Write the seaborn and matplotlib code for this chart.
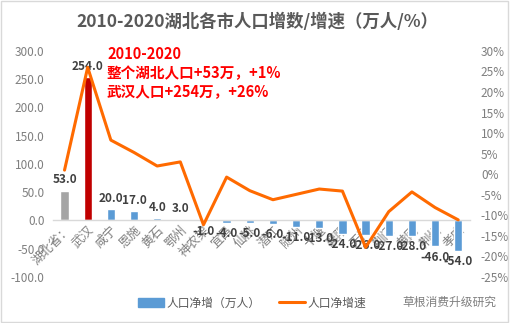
import matplotlib
matplotlib.use("Agg")
import matplotlib.pyplot as plt
import seaborn as sns
import numpy as np
import pandas as pd
from matplotlib.patches import Patch, Rectangle
from matplotlib.lines import Line2D
from matplotlib.ticker import FuncFormatter, MultipleLocator

sns.set_theme(style="white")
plt.rcParams['font.family'] = ['Noto Sans CJK SC', 'DejaVu Sans']
plt.rcParams['axes.unicode_minus'] = False

cities = ["湖北省：", "武汉", "咸宁", "恩施", "黄石", "鄂州", "神农架", "宜昌", "仙桃",
          "潜江", "随州", "十堰", "襄阳", "天门", "荆门", "黄冈", "荆州", "孝感"]
net_increase = [53, 254, 20, 17, 4, 3, -1, -4, -5, -6, -11, -13, -24, -26, -27, -28, -46, -54]
growth_rate = [0.01, 0.26, 0.083, 0.053, 0.02, 0.03, -0.123, -0.007, -0.04, -0.062, -0.049,
               -0.036, -0.041, -0.178, -0.091, -0.043, -0.081, -0.111]

BLUE = "#5B9BD5"
RED = "#C00000"
GRAY = "#A5A5A5"
ORANGE = "#FF6A00"
bar_colors = [GRAY, RED] + [BLUE] * (len(cities) - 2)

df = pd.DataFrame({"city": cities, "net": net_increase, "rate": growth_rate})

fig = plt.figure(figsize=(5.14, 3.23), dpi=100)
ax = fig.add_axes([0.103, 0.1424, 0.811, 0.700])

sns.barplot(data=df, x="city", y="net", hue="city", palette=bar_colors,
            dodge=False, width=0.36, legend=False, ax=ax, saturation=1)
for cont in ax.containers:
    ax.bar_label(cont, fmt="%.1f", padding=3, fontsize=8.5, fontweight="bold",
                 color="#404040")

for s in ax.spines.values():
    s.set_visible(False)
ax.spines["bottom"].set_visible(True)
ax.spines["bottom"].set_position(("data", 0))
ax.spines["bottom"].set_color("#D9D9D9")
ax.spines["bottom"].set_linewidth(1)

ax.set_ylim(-100, 300)
ax.set_xlim(-0.5, len(cities) - 0.5)
ax.yaxis.set_major_locator(MultipleLocator(50))
ax.yaxis.set_major_formatter(FuncFormatter(lambda v, p: f"{v:.1f}"))
ax.tick_params(axis="y", labelsize=8.5, labelcolor="#7F7F7F", length=0, pad=6)
ax.set_xticks(range(len(cities)))
ax.set_xticklabels(cities)
ax.tick_params(axis="x", length=0, pad=2, labelsize=9, labelcolor="#7F7F7F",
               labelrotation=45)
for lbl in ax.get_xticklabels():
    lbl.set_ha("right")
    lbl.set_rotation_mode("anchor")
ax.set_xlabel("")
ax.set_ylabel("")

ax2 = ax.twinx()
sns.lineplot(x=np.arange(len(cities)), y=growth_rate, color=ORANGE, lw=2.2, ax=ax2)
ax2.set_ylim(-0.25, 0.30)
ax2.yaxis.set_major_locator(MultipleLocator(0.05))
ax2.yaxis.set_major_formatter(FuncFormatter(lambda v, p: f"{round(v*100):d}%"))
ax2.tick_params(axis="y", labelsize=8.5, labelcolor="#7F7F7F", length=0, pad=8)
for s in ax2.spines.values():
    s.set_visible(False)
ax2.set_xlim(-0.5, len(cities) - 0.5)

fig.text(0.5, 1 - 22 / 323, "2010-2020湖北各市人口增数/增速（万人/%）", ha="center",
         va="center", fontsize=12.5, fontweight="bold", color="#595959")

ann = "2010-2020\n整个湖北人口+53万，+1%\n武汉人口+254万，+26%"
fig.text(107 / 514, 1 - 46 / 323, ann, ha="left", va="top", fontsize=10.5,
         fontweight="bold", color="#FF0000", linespacing=1.25)

handles = [Patch(facecolor=BLUE, edgecolor=BLUE),
           Line2D([0], [0], color=ORANGE, lw=2.2)]
fig.legend(handles, ["人口净增（万人）", "人口净增速"], loc="center left",
           bbox_to_anchor=(138 / 514, 1 - 303 / 323), ncol=2, frameon=False,
           fontsize=8.5, labelcolor="#595959", handlelength=2.2, columnspacing=1.6,
           handletextpad=0.2, borderaxespad=0, borderpad=0)

fig.text(402 / 514, 1 - 302 / 323, "草根消费升级研究", ha="left", va="center",
         fontsize=8.5, color="#7F7F7F")

fig.patches.append(Rectangle((0.002, 0.003), 0.986, 0.994, transform=fig.transFigure,
                             fill=False, edgecolor="#D9D9D9", lw=1))

fig.savefig("out.png", dpi=100)
